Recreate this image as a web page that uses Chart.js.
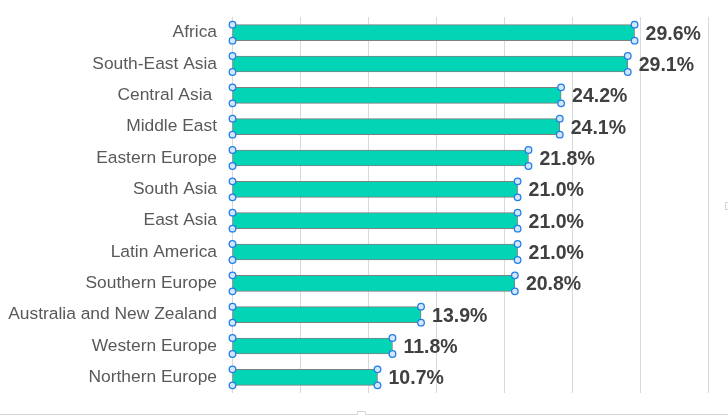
<!DOCTYPE html>
<html>
<head>
<meta charset="utf-8">
<script src="https://cdn.jsdelivr.net/npm/chart.js@4/dist/chart.umd.min.js"></script>
<style>
  html, body { margin: 0; padding: 0; background: #ffffff; }
  #wrap { width: 728px; height: 415px; position: relative; }
  canvas { display: block; }
</style>
</head>
<body>
<div id="wrap"><canvas id="c" width="728" height="415"></canvas></div>
<script>
const categories = ['Africa', 'South-East Asia', 'Central Asia ', 'Middle East', 'Eastern Europe', 'South Asia', 'East Asia', 'Latin America', 'Southern Europe', 'Australia and New Zealand', 'Western Europe', 'Northern Europe'];
const values = [29.6, 29.1, 24.2, 24.1, 21.8, 21.0, 21.0, 21.0, 20.8, 13.9, 11.8, 10.7];
const axisMin = 0;
const axisMax = 35;
const axisStep = 5;

const FONT = '"Liberation Sans", Arial, Helvetica, sans-serif';

const decorPlugin = {
  id: 'decor',
  afterDatasetsDraw(chart) {
    const ctx = chart.ctx;
    const meta = chart.getDatasetMeta(0);
    ctx.save();
    // data labels
    ctx.font = 'bold 19.5px ' + FONT;
    ctx.fillStyle = '#404040';
    ctx.textAlign = 'left';
    ctx.textBaseline = 'middle';
    meta.data.forEach((el, i) => {
      ctx.fillText(values[i].toFixed(1) + '%', el.x + 11, el.y + 1.5);
    });
    // selection handles
    ctx.lineWidth = 1.3;
    ctx.strokeStyle = '#1f7fe8';
    ctx.fillStyle = '#d3e6fc';
    meta.data.forEach((el) => {
      const h = el.height / 2;
      const pts = [[el.base, el.y - h], [el.base, el.y + h], [el.x, el.y - h], [el.x, el.y + h]];
      pts.forEach(([px, py]) => {
        ctx.beginPath();
        ctx.arc(px, py, 3.3, 0, Math.PI * 2);
        ctx.fill();
        ctx.stroke();
      });
    });
    ctx.restore();
  },
  afterDraw(chart) {
    const ctx = chart.ctx;
    ctx.save();
    ctx.strokeStyle = '#d4d4d4';
    ctx.lineWidth = 1;
    ctx.beginPath();
    ctx.moveTo(0, 414.5);
    ctx.lineTo(357.5, 414.5);
    ctx.lineTo(357.5, 411.5);
    ctx.lineTo(365.5, 411.5);
    ctx.lineTo(365.5, 414.5);
    ctx.lineTo(728, 414.5);
    ctx.stroke();
    ctx.strokeRect(725.5, 202.5, 4, 7);
    ctx.restore();
  }
};

new Chart(document.getElementById('c'), {
  type: 'bar',
  data: {
    labels: categories,
    datasets: [{
      data: values,
      backgroundColor: '#02d5b6',
      borderColor: '#7f7f7f',
      borderWidth: 1,
      borderSkipped: false,
      barThickness: 16
    }]
  },
  options: {
    indexAxis: 'y',
    responsive: false,
    animation: false,
    devicePixelRatio: 1,
    layout: { padding: { top: 17, right: 20, bottom: 22, left: 0 } },
    plugins: { legend: { display: false }, tooltip: { enabled: false } },
    scales: {
      x: {
        min: axisMin,
        max: axisMax,
        ticks: { display: false, stepSize: axisStep },
        grid: { color: '#d9d9d9', lineWidth: 1, drawTicks: false },
        border: { display: false },
        afterFit(scale) { scale.height = 0; scale.paddingLeft = 0; scale.paddingRight = 0; }
      },
      y: {
        ticks: { color: '#595959', font: { family: FONT, size: 17.4 }, padding: 7 },
        grid: { display: false },
        border: { display: false },
        afterFit(scale) { scale.width = 232; scale.paddingTop = 0; scale.paddingBottom = 0; }
      }
    }
  },
  plugins: [decorPlugin]
});
</script>
</body>
</html>
